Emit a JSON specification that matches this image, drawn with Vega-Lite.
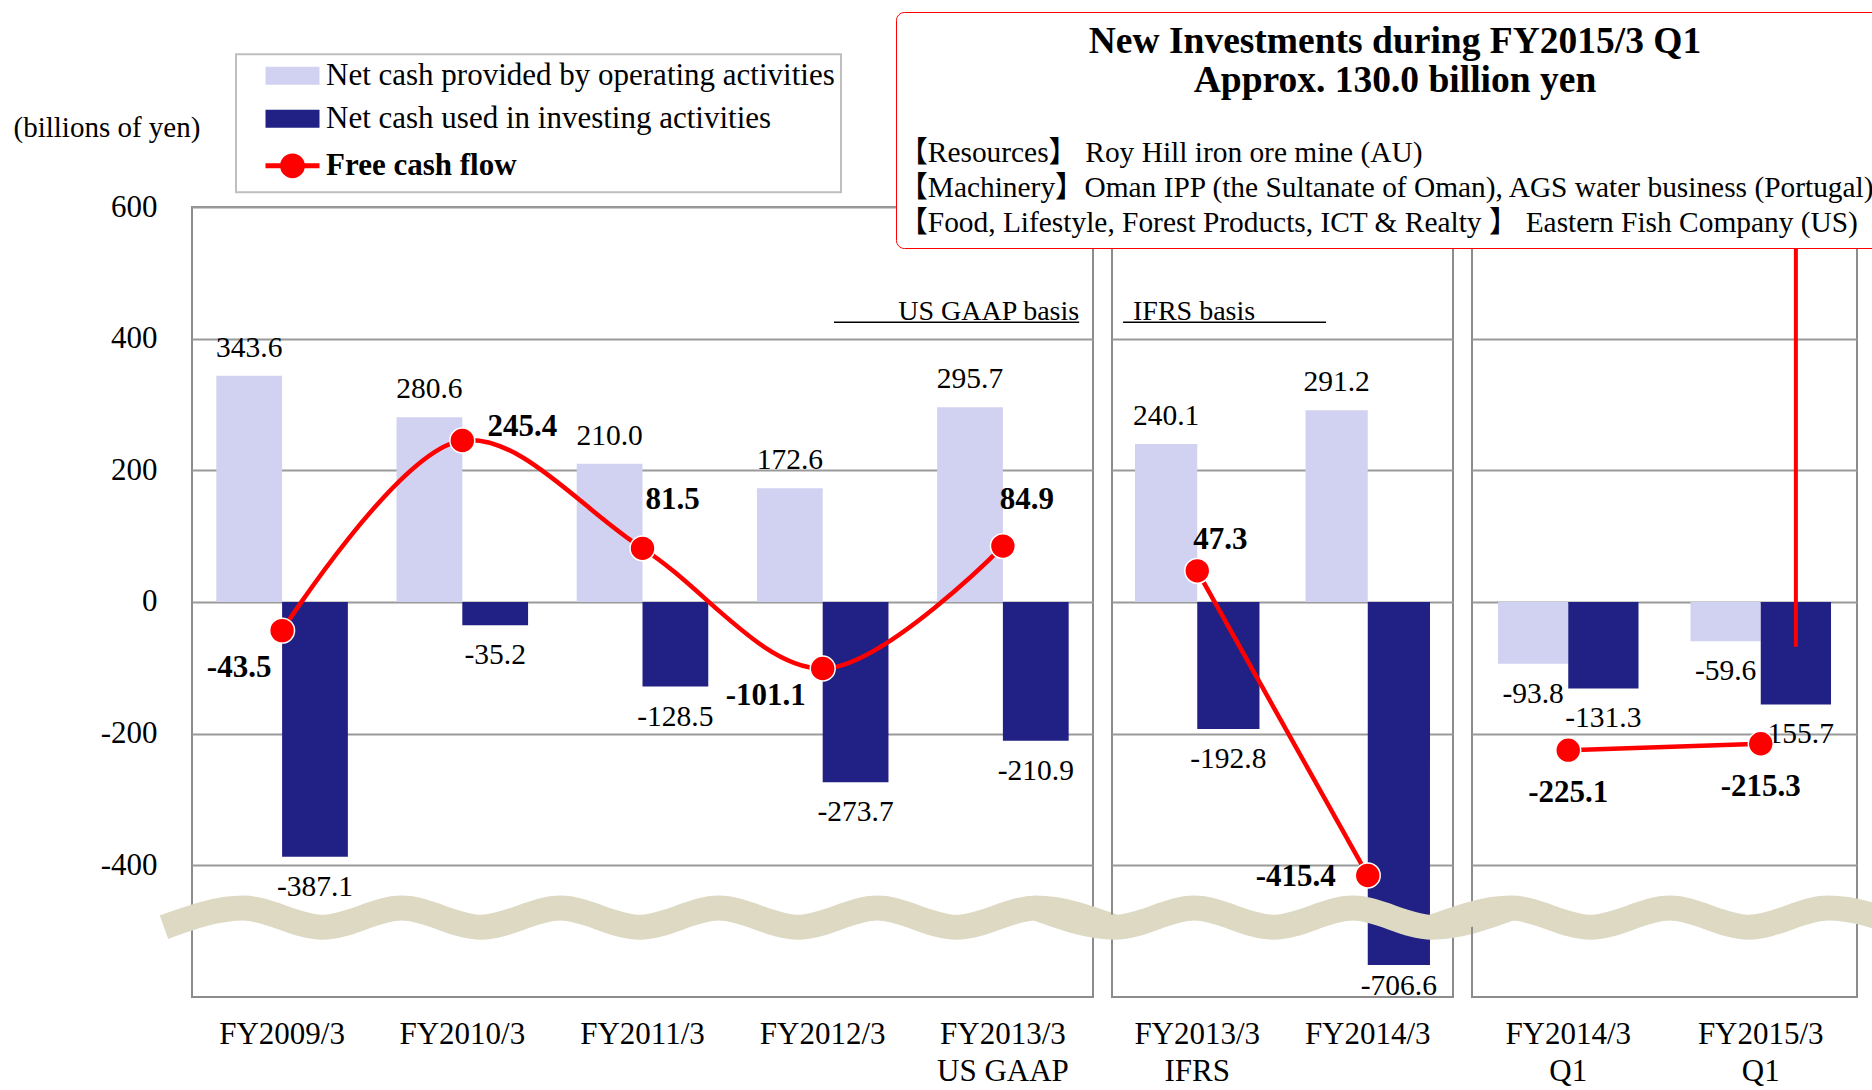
{
  "$schema": "https://vega.github.io/schema/vega-lite/v6.json",
  "autosize": {"type": "pad"},
  "padding": {"left": 12, "top": 10, "right": 0, "bottom": 0},
  "background": "white",
  "datasets": {
    "cf": [
      {"panel": 1, "period": "FY2009/3", "series": "Net cash provided by operating activities", "value": 343.6},
      {"panel": 1, "period": "FY2009/3", "series": "Net cash used in investing activities", "value": -387.1},
      {"panel": 1, "period": "FY2009/3", "series": "Free cash flow", "value": -43.5},
      {"panel": 1, "period": "FY2010/3", "series": "Net cash provided by operating activities", "value": 280.6},
      {"panel": 1, "period": "FY2010/3", "series": "Net cash used in investing activities", "value": -35.2},
      {"panel": 1, "period": "FY2010/3", "series": "Free cash flow", "value": 245.4},
      {"panel": 1, "period": "FY2011/3", "series": "Net cash provided by operating activities", "value": 210.0},
      {"panel": 1, "period": "FY2011/3", "series": "Net cash used in investing activities", "value": -128.5},
      {"panel": 1, "period": "FY2011/3", "series": "Free cash flow", "value": 81.5},
      {"panel": 1, "period": "FY2012/3", "series": "Net cash provided by operating activities", "value": 172.6},
      {"panel": 1, "period": "FY2012/3", "series": "Net cash used in investing activities", "value": -273.7},
      {"panel": 1, "period": "FY2012/3", "series": "Free cash flow", "value": -101.1},
      {"panel": 1, "period": "FY2013/3\nUS GAAP", "series": "Net cash provided by operating activities", "value": 295.7},
      {"panel": 1, "period": "FY2013/3\nUS GAAP", "series": "Net cash used in investing activities", "value": -210.9},
      {"panel": 1, "period": "FY2013/3\nUS GAAP", "series": "Free cash flow", "value": 84.9},
      {"panel": 2, "period": "FY2013/3\nIFRS", "series": "Net cash provided by operating activities", "value": 240.1},
      {"panel": 2, "period": "FY2013/3\nIFRS", "series": "Net cash used in investing activities", "value": -192.8},
      {"panel": 2, "period": "FY2013/3\nIFRS", "series": "Free cash flow", "value": 47.3},
      {"panel": 2, "period": "FY2014/3", "series": "Net cash provided by operating activities", "value": 291.2},
      {"panel": 2, "period": "FY2014/3", "series": "Net cash used in investing activities", "value": -706.6},
      {"panel": 2, "period": "FY2014/3", "series": "Free cash flow", "value": -415.4},
      {"panel": 3, "period": "FY2014/3\nQ1", "series": "Net cash provided by operating activities", "value": -93.8},
      {"panel": 3, "period": "FY2014/3\nQ1", "series": "Net cash used in investing activities", "value": -131.3},
      {"panel": 3, "period": "FY2014/3\nQ1", "series": "Free cash flow", "value": -225.1},
      {"panel": 3, "period": "FY2015/3\nQ1", "series": "Net cash provided by operating activities", "value": -59.6},
      {"panel": 3, "period": "FY2015/3\nQ1", "series": "Net cash used in investing activities", "value": -155.7},
      {"panel": 3, "period": "FY2015/3\nQ1", "series": "Free cash flow", "value": -215.3}
    ],
    "wave": [
      {"u": 0, "w": -494}, {"u": 1, "w": -465}, {"u": 2, "w": -494}, {"u": 3, "w": -465},
      {"u": 4, "w": -494}, {"u": 5, "w": -465}, {"u": 6, "w": -494}, {"u": 7, "w": -465},
      {"u": 8, "w": -494}, {"u": 9, "w": -465}, {"u": 10, "w": -494}, {"u": 11, "w": -465},
      {"u": 12, "w": -494}, {"u": 13, "w": -465}, {"u": 14, "w": -494}, {"u": 15, "w": -465},
      {"u": 16, "w": -494}, {"u": 17, "w": -465}, {"u": 18, "w": -494}, {"u": 19, "w": -465},
      {"u": 20, "w": -494}, {"u": 21, "w": -465}, {"u": 22, "w": -494}
    ]
  },
  "hconcat": [
    {
      "width": 901,
      "height": 790,
      "layer": [
        {
          "data": {"name": "cf"},
          "transform": [{"filter": "datum.panel == 1 && datum.series != 'Free cash flow'"}],
          "encoding": {
            "x": {"field": "period", "type": "nominal",
              "scale": {"type": "band", "domain": ["FY2009/3", "FY2010/3", "FY2011/3", "FY2012/3", "FY2013/3\nUS GAAP"], "paddingInner": 0.27, "paddingOuter": 0.135},
              "axis": {"title": null, "labelExpr": "split(datum.label, '\\n')", "labelFontSize": 31, "labelPadding": 22, "ticks": false, "domain": false, "labelAngle": 0, "labelLineHeight": 37, "labelBaseline": "top", "grid": false}},
            "xOffset": {"field": "series", "type": "nominal", "scale": {"domain": ["Net cash provided by operating activities", "Net cash used in investing activities"], "paddingInner": 0, "paddingOuter": 0}},
            "y": {"field": "value", "type": "quantitative",
              "scale": {"domain": [-996, -520, 600], "range": [790, 737.3, 0], "nice": false, "zero": false},
              "axis": {"values": [-400, -200, 0, 200, 400, 600], "title": "(billions of yen)", "titleAngle": 0, "titleX": -179, "titleY": -80, "titleAlign": "left", "titleBaseline": "middle", "titleFontSize": 29, "titleFontWeight": "normal", "titleColor": "#000", "labelFontSize": 31, "labelPadding": 35, "ticks": false, "domain": false, "grid": true}}
          },
          "layer": [
            {"mark": {"type": "bar"},
             "encoding": {"y2": {"datum": 0},
               "color": {"field": "series", "type": "nominal",
                 "scale": {"domain": ["Net cash provided by operating activities", "Net cash used in investing activities", "Free cash flow"], "range": ["#d1d1f1", "#212185", "#ff0000"]},
                 "legend": {"title": null, "orient": "none", "legendX": 44, "legendY": -152.7, "direction": "vertical",
                   "labelFontSize": 31, "labelColor": "#000", "labelLimit": 0,
                   "symbolSize": 324, "symbolStrokeWidth": 0, "symbolOffset": 35, "labelOffset": 18,
                   "rowPadding": 11, "padding": 6, "strokeColor": "#bfbfbf", "fillColor": "white",
                   "encode": {
                     "legend": {"update": {"strokeWidth": {"value": 2}}},
                     "symbols": {"update": {
                       "shape": {"signal": "datum.value === 'Free cash flow' ? 'M-3,0H3M1.1,0A1.1,1.1 0 1 1 -1.1,0A1.1,1.1 0 1 1 1.1,0Z' : 'M-3,-1H3V1H-3Z'"},
                       "fill": {"signal": "datum.value === 'Free cash flow' ? '#ff0000' : (datum.value === 'Net cash used in investing activities' ? '#212185' : '#d1d1f1')"},
                       "stroke": {"signal": "datum.value === 'Free cash flow' ? '#ff0000' : 'transparent'"},
                       "strokeWidth": {"signal": "datum.value === 'Free cash flow' ? 5 : 0"},
                       "opacity": {"value": 1}
                     }},
                     "labels": {"update": {"fontWeight": {"signal": "datum.value === 'Free cash flow' ? 'bold' : 'normal'"}}}
                   }}}}},
            {"transform": [{"filter": "datum.value >= 0"}],
             "mark": {"type": "text", "dy": -28, "fontSize": 29.5},
             "encoding": {"text": {"field": "value", "type": "quantitative", "format": ".1f"}}},
            {"transform": [{"filter": "datum.value < 0"}],
             "mark": {"type": "text", "dy": 30, "fontSize": 29.5},
             "encoding": {"text": {"field": "value", "type": "quantitative", "format": ".1f"}}}
          ]
        },
        {
          "data": {"name": "wave"},
          "transform": [{"filter": "datum.u <= 12"}],
          "mark": {"type": "line", "interpolate": "monotone", "strokeWidth": 25, "color": "#ddd9c3", "clip": false, "strokeCap": "butt"},
          "encoding": {
            "x": {"field": "u", "type": "quantitative", "scale": {"domain": [0.3533, 11.722], "nice": false, "zero": false}, "axis": null},
            "y": {"field": "w", "type": "quantitative"}
          }
        },
        {
          "data": {"name": "cf"},
          "transform": [{"filter": "datum.panel == 1 && datum.series == 'Free cash flow'"}],
          "encoding": {
            "x": {"field": "period", "type": "nominal",
              "scale": {"type": "band", "domain": ["FY2009/3", "FY2010/3", "FY2011/3", "FY2012/3", "FY2013/3\nUS GAAP"], "paddingInner": 0.27, "paddingOuter": 0.135},
              "axis": null},
            "y": {"field": "value", "type": "quantitative"}
          },
          "layer": [
            {"mark": {"type": "line", "interpolate": "catmull-rom", "strokeWidth": 4.5},
             "encoding": {"color": {"field": "series", "type": "nominal",
               "scale": {"domain": ["Net cash provided by operating activities", "Net cash used in investing activities", "Free cash flow"], "range": ["#d1d1f1", "#212185", "#ff0000"]}}}},
            {"mark": {"type": "point", "filled": true, "size": 620, "color": "#ff0000", "stroke": "#ffffff", "strokeWidth": 1.5, "opacity": 1}},
            {"transform": [{"filter": "datum.period == 'FY2009/3'"}],
             "mark": {"type": "text", "fontWeight": "bold", "fontSize": 31, "dx": -43, "dy": 37},
             "encoding": {"text": {"field": "value", "type": "quantitative", "format": ".1f"}}},
            {"transform": [{"filter": "datum.period == 'FY2010/3'"}],
             "mark": {"type": "text", "fontWeight": "bold", "fontSize": 31, "dx": 60, "dy": -13},
             "encoding": {"text": {"field": "value", "type": "quantitative", "format": ".1f"}}},
            {"transform": [{"filter": "datum.period == 'FY2011/3'"}],
             "mark": {"type": "text", "fontWeight": "bold", "fontSize": 31, "dx": 30, "dy": -48},
             "encoding": {"text": {"field": "value", "type": "quantitative", "format": ".1f"}}},
            {"transform": [{"filter": "datum.period == 'FY2012/3'"}],
             "mark": {"type": "text", "fontWeight": "bold", "fontSize": 31, "dx": -57, "dy": 27},
             "encoding": {"text": {"field": "value", "type": "quantitative", "format": ".1f"}}},
            {"transform": [{"filter": "datum.period == 'FY2013/3\\nUS GAAP'"}],
             "mark": {"type": "text", "fontWeight": "bold", "fontSize": 31, "dx": 24, "dy": -46},
             "encoding": {"text": {"field": "value", "type": "quantitative", "format": ".1f"}}}
          ]
        },
        {
          "data": {"values": [{"t": "US GAAP basis", "p": "FY2013/3\nUS GAAP", "p0": "FY2012/3"}]},
          "layer": [
            {"mark": {"type": "text", "align": "right", "baseline": "alphabetic", "fontSize": 28},
             "encoding": {
               "x": {"field": "p", "type": "nominal", "bandPosition": 1.08,
                 "scale": {"type": "band", "domain": ["FY2009/3", "FY2010/3", "FY2011/3", "FY2012/3", "FY2013/3\nUS GAAP"], "paddingInner": 0.27, "paddingOuter": 0.135}, "axis": null},
               "y": {"datum": 428, "type": "quantitative"},
               "text": {"field": "t"}}},
            {"mark": {"type": "rule", "color": "#000", "strokeWidth": 1.5},
             "encoding": {
               "x": {"field": "p0", "type": "nominal", "bandPosition": 0.586, "axis": null},
               "x2": {"field": "p", "bandPosition": 1.08},
               "y": {"datum": 425, "type": "quantitative"}}}
          ]
        }
      ],
      "resolve": {"scale": {"x": "independent"}}
    },
    {
      "width": 341,
      "height": 790,
      "layer": [
        {
          "data": {"name": "cf"},
          "transform": [{"filter": "datum.panel == 2 && datum.series != 'Free cash flow'"}],
          "encoding": {
            "x": {"field": "period", "type": "nominal",
              "scale": {"type": "band", "domain": ["FY2013/3\nIFRS", "FY2014/3"], "paddingInner": 0.27, "paddingOuter": 0.135},
              "axis": {"title": null, "labelExpr": "split(datum.label, '\\n')", "labelFontSize": 31, "labelPadding": 22, "ticks": false, "domain": false, "labelAngle": 0, "labelLineHeight": 37, "labelBaseline": "top", "grid": false}},
            "xOffset": {"field": "series", "type": "nominal", "scale": {"domain": ["Net cash provided by operating activities", "Net cash used in investing activities"], "paddingInner": 0, "paddingOuter": 0}},
            "y": {"field": "value", "type": "quantitative",
              "scale": {"domain": [-996, -520, 600], "range": [790, 737.3, 0], "nice": false, "zero": false},
              "axis": {"values": [-400, -200, 0, 200, 400, 600], "title": null, "labels": false, "ticks": false, "domain": false, "grid": true}}
          },
          "layer": [
            {"mark": {"type": "bar"},
             "encoding": {"y2": {"datum": 0},
               "color": {"field": "series", "type": "nominal",
                 "scale": {"domain": ["Net cash provided by operating activities", "Net cash used in investing activities", "Free cash flow"], "range": ["#d1d1f1", "#212185", "#ff0000"]},
                 "legend": null}}},
            {"transform": [{"filter": "datum.value >= 0"}],
             "mark": {"type": "text", "dy": -28, "fontSize": 29.5},
             "encoding": {"text": {"field": "value", "type": "quantitative", "format": ".1f"}}},
            {"transform": [{"filter": "datum.value < 0 && datum.value > -700"}],
             "mark": {"type": "text", "dy": 30, "fontSize": 29.5},
             "encoding": {"text": {"field": "value", "type": "quantitative", "format": ".1f"}}},
            {"transform": [{"filter": "datum.value <= -700"}],
             "mark": {"type": "text", "dy": 21, "fontSize": 29.5},
             "encoding": {"text": {"field": "value", "type": "quantitative", "format": ".1f"}}}
          ]
        },
        {
          "data": {"name": "wave"},
          "transform": [{"filter": "datum.u >= 11 && datum.u <= 17"}],
          "mark": {"type": "line", "interpolate": "monotone", "strokeWidth": 25, "color": "#ddd9c3", "clip": false, "strokeCap": "butt"},
          "encoding": {
            "x": {"field": "u", "type": "quantitative", "scale": {"domain": [11.962, 16.265], "nice": false, "zero": false}, "axis": null},
            "y": {"field": "w", "type": "quantitative"}
          }
        },
        {
          "data": {"name": "cf"},
          "transform": [{"filter": "datum.panel == 2 && datum.series == 'Free cash flow'"}],
          "encoding": {
            "x": {"field": "period", "type": "nominal",
              "scale": {"type": "band", "domain": ["FY2013/3\nIFRS", "FY2014/3"], "paddingInner": 0.27, "paddingOuter": 0.135},
              "axis": null},
            "y": {"field": "value", "type": "quantitative"}
          },
          "layer": [
            {"mark": {"type": "line", "strokeWidth": 4.5, "color": "#ff0000"}},
            {"mark": {"type": "point", "filled": true, "size": 620, "color": "#ff0000", "stroke": "#ffffff", "strokeWidth": 1.5, "opacity": 1}},
            {"transform": [{"filter": "datum.period == 'FY2013/3\\nIFRS'"}],
             "mark": {"type": "text", "fontWeight": "bold", "fontSize": 31, "dx": 23, "dy": -31},
             "encoding": {"text": {"field": "value", "type": "quantitative", "format": ".1f"}}},
            {"transform": [{"filter": "datum.period == 'FY2014/3'"}],
             "mark": {"type": "text", "fontWeight": "bold", "fontSize": 31, "dx": -72, "dy": 2},
             "encoding": {"text": {"field": "value", "type": "quantitative", "format": ".1f"}}}
          ]
        },
        {
          "data": {"values": [{"t": "IFRS basis", "p": "FY2013/3\nIFRS", "p2": "FY2014/3"}]},
          "layer": [
            {"mark": {"type": "text", "align": "left", "baseline": "alphabetic", "fontSize": 28},
             "encoding": {
               "x": {"field": "p", "type": "nominal", "bandPosition": -0.016,
                 "scale": {"type": "band", "domain": ["FY2013/3\nIFRS", "FY2014/3"], "paddingInner": 0.27, "paddingOuter": 0.135}, "axis": null},
               "y": {"datum": 428, "type": "quantitative"},
               "text": {"field": "t"}}},
            {"mark": {"type": "rule", "color": "#000", "strokeWidth": 1.5},
             "encoding": {
               "x": {"field": "p", "type": "nominal", "bandPosition": -0.096, "axis": null},
               "x2": {"field": "p2", "bandPosition": 0.165},
               "y": {"datum": 425, "type": "quantitative"}}}
          ]
        }
      ],
      "resolve": {"scale": {"x": "independent"}}
    },
    {
      "width": 385,
      "height": 790,
      "layer": [
        {
          "data": {"name": "cf"},
          "transform": [{"filter": "datum.panel == 3 && datum.series != 'Free cash flow'"}],
          "encoding": {
            "x": {"field": "period", "type": "nominal",
              "scale": {"type": "band", "domain": ["FY2014/3\nQ1", "FY2015/3\nQ1"], "paddingInner": 0.27, "paddingOuter": 0.135},
              "axis": {"title": null, "labelExpr": "split(datum.label, '\\n')", "labelFontSize": 31, "labelPadding": 22, "ticks": false, "domain": false, "labelAngle": 0, "labelLineHeight": 37, "labelBaseline": "top", "grid": false}},
            "xOffset": {"field": "series", "type": "nominal", "scale": {"domain": ["Net cash provided by operating activities", "Net cash used in investing activities"], "paddingInner": 0, "paddingOuter": 0}},
            "y": {"field": "value", "type": "quantitative",
              "scale": {"domain": [-996, -520, 600], "range": [790, 737.3, 0], "nice": false, "zero": false},
              "axis": {"values": [-400, -200, 0, 200, 400, 600], "title": null, "labels": false, "ticks": false, "domain": false, "grid": true}}
          },
          "layer": [
            {"mark": {"type": "bar"},
             "encoding": {"y2": {"datum": 0},
               "color": {"field": "series", "type": "nominal",
                 "scale": {"domain": ["Net cash provided by operating activities", "Net cash used in investing activities", "Free cash flow"], "range": ["#d1d1f1", "#212185", "#ff0000"]},
                 "legend": null}}},
            {"transform": [{"filter": "datum.value >= 0"}],
             "mark": {"type": "text", "dy": -28, "fontSize": 29.5},
             "encoding": {"text": {"field": "value", "type": "quantitative", "format": ".1f"}}},
            {"transform": [{"filter": "datum.value < 0"}],
             "mark": {"type": "text", "dy": 30, "fontSize": 29.5},
             "encoding": {"text": {"field": "value", "type": "quantitative", "format": ".1f"}}},
            {"transform": [{"filter": "datum.series == 'Net cash used in investing activities' && datum.period == 'FY2015/3\\nQ1'"}],
             "mark": {"type": "rule", "color": "#ff0000", "strokeWidth": 4},
             "encoding": {"y": {"datum": -68, "type": "quantitative"}, "y2": {"datum": 560}}}
          ]
        },
        {
          "data": {"name": "wave"},
          "transform": [{"filter": "datum.u >= 16"}],
          "mark": {"type": "line", "interpolate": "monotone", "strokeWidth": 25, "color": "#ddd9c3", "clip": false, "strokeCap": "butt"},
          "encoding": {
            "x": {"field": "u", "type": "quantitative", "scale": {"domain": [16.505, 21.363], "nice": false, "zero": false}, "axis": null},
            "y": {"field": "w", "type": "quantitative"}
          }
        },
        {
          "data": {"name": "cf"},
          "transform": [{"filter": "datum.panel == 3 && datum.series == 'Free cash flow'"}],
          "encoding": {
            "x": {"field": "period", "type": "nominal",
              "scale": {"type": "band", "domain": ["FY2014/3\nQ1", "FY2015/3\nQ1"], "paddingInner": 0.27, "paddingOuter": 0.135},
              "axis": null},
            "y": {"field": "value", "type": "quantitative"}
          },
          "layer": [
            {"mark": {"type": "line", "strokeWidth": 4.5, "color": "#ff0000"}},
            {"mark": {"type": "point", "filled": true, "size": 620, "color": "#ff0000", "stroke": "#ffffff", "strokeWidth": 1.5, "opacity": 1}},
            {"mark": {"type": "text", "fontWeight": "bold", "fontSize": 31, "dx": 0, "dy": 43},
             "encoding": {"text": {"field": "value", "type": "quantitative", "format": ".1f"}}}
          ]
        },
        {
          "data": {"values": [
            {"note": "【Resources】 Roy Hill iron ore mine (AU)"},
            {"note": "【Machinery】Oman IPP (the Sultanate of Oman),  AGS water business (Portugal)"},
            {"note": "【Food, Lifestyle, Forest Products, ICT & Realty 】 Eastern Fish Company (US)"}
          ]},
          "mark": {"type": "point", "opacity": 0},
          "encoding": {
            "shape": {"field": "note", "type": "nominal",
              "scale": {"domain": ["【Resources】 Roy Hill iron ore mine (AU)", "【Machinery】Oman IPP (the Sultanate of Oman),  AGS water business (Portugal)", "【Food, Lifestyle, Forest Products, ICT & Realty 】 Eastern Fish Company (US)"]},
              "legend": {"title": ["New Investments during FY2015/3 Q1", "Approx. 130.0 billion yen"],
                "orient": "none", "legendX": -576, "legendY": -195,
                "titleFontSize": 37.5, "titleFontWeight": "bold", "titleColor": "#000", "titleLineHeight": 39.4, "titleAnchor": "middle", "titleAlign": "center", "titlePadding": 38, "titleLimit": 2000,
                "labelFontSize": 29.4, "labelLimit": 0, "labelColor": "#000",
                "symbolSize": 0, "symbolStrokeWidth": 0, "symbolOpacity": 0, "symbolOffset": 0, "labelOffset": -38,
                "rowPadding": 4, "padding": 11, "strokeColor": "#ff0000", "fillColor": "white", "cornerRadius": 8,
                "encode": {"legend": {"update": {"strokeWidth": {"value": 3}}}}}}
          }
        }
      ],
      "resolve": {"scale": {"x": "independent"}}
    }
  ],
  "spacing": 19,
  "bounds": "flush",
  "resolve": {
    "scale": {"color": "independent", "shape": "independent", "x": "independent", "y": "independent", "xOffset": "independent"},
    "legend": {"color": "independent", "shape": "independent"}
  },
  "config": {
    "font": "Liberation Serif",
    "view": {"stroke": "#8c8c8c", "strokeWidth": 2},
    "axis": {"labelFont": "Liberation Serif", "labelColor": "#000", "titleFont": "Liberation Serif", "gridColor": "#9a9a9a", "gridWidth": 2},
    "text": {"font": "Liberation Serif", "color": "#000"},
    "legend": {"labelFont": "Liberation Serif, Noto Sans CJK JP", "titleFont": "Liberation Serif"},
    "locale": {"number": {"decimal": ".", "thousands": ",", "grouping": [3], "currency": ["$", ""], "minus": "-"}}
  }
}
